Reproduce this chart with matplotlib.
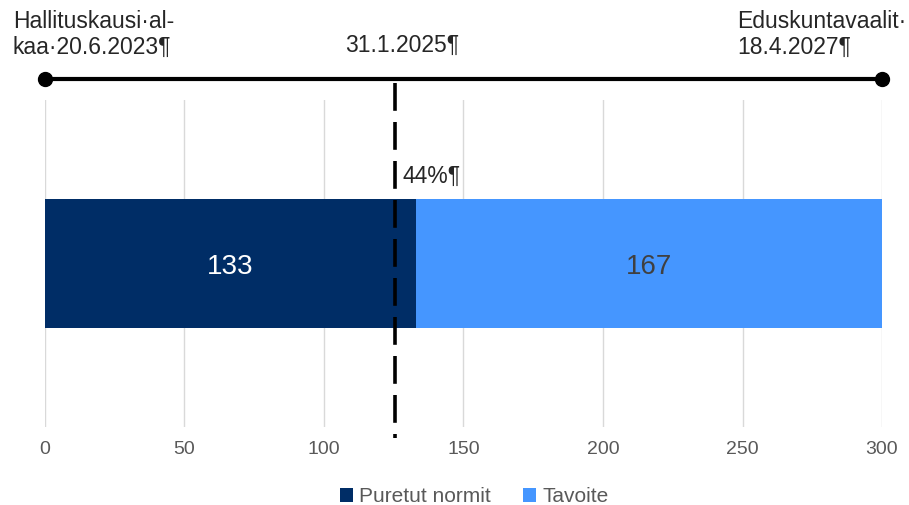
import matplotlib.pyplot as plt
import matplotlib.transforms as mtransforms

plt.rcParams['font.family'] = ['Liberation Sans', 'DejaVu Sans']

# data
series = ['Puretut normit', 'Tavoite']
values = [133, 167]
colors = ['#002D66', '#4596FF']
label_colors = ['#FFFFFF', '#404040']
today_x = 125.5          # 31.1.2025 on the 0-300 scale
axis_max = 300
xticks = [0, 50, 100, 150, 200, 250, 300]
start_label = 'Hallituskausi·al-\nkaa·20.6.2023¶'
mid_label = '31.1.2025¶'
end_label = 'Eduskuntavaalit·\n18.4.2027¶'
pct_label = '44%¶'

fig = plt.figure(figsize=(9.09, 5.05), dpi=100)
ax = fig.add_axes([0.0495, 0.1545, 0.9208, 0.6475])

left = 0
for name, v, c, lc in zip(series, values, colors, label_colors):
    ax.barh(0, v, left=left, height=0.79, color=c, label=name, zorder=2)
    ax.text(left + v / 2, -0.02, str(v), ha='center', va='center',
            fontsize=20, color=lc, zorder=4)
    left += v

ax.set_xlim(0, axis_max)
ax.set_ylim(-1, 1)
ax.set_yticks([])
ax.set_xticks(xticks)
ax.tick_params(axis='x', length=0, labelsize=14, colors='#595959', pad=10)
ax.grid(axis='x', color='#D9D9D9', linewidth=1, zorder=0)
for s in ax.spines.values():
    s.set_visible(False)

# timeline on top
trans = mtransforms.blended_transform_factory(ax.transData, ax.transAxes)
ax.plot([0, axis_max], [1.064, 1.064], color='black', lw=3, transform=trans,
        clip_on=False, zorder=5)
ax.plot([0, axis_max], [1.064, 1.064], 'o', color='black', ms=10,
        transform=trans, clip_on=False, zorder=6)

# dashed "today" line
ax.plot([today_x, today_x], [1.052, -0.035], color='black', lw=2.6,
        dashes=(7.7, 3.1), transform=trans, clip_on=False, zorder=5)

ax.text(-11.5, 1.2, start_label, transform=trans, ha='left', va='center',
        fontsize=16.5, color='#262626', linespacing=1.2)
ax.text(today_x + 2.5, 1.168, mid_label, transform=trans, ha='center', va='center',
        fontsize=16.5, color='#262626')
ax.text(248, 1.2, end_label, transform=trans, ha='left', va='center',
        fontsize=16.5, color='#262626', linespacing=1.2)
ax.text(today_x + 2.5, 0.765, pct_label, transform=trans, ha='left', va='center',
        fontsize=16.5, color='#262626')

ax.legend(loc='lower center', bbox_to_anchor=(0.513, -0.3), ncol=2, frameon=False,
          fontsize=15, labelcolor='#595959', handlelength=0.6, handleheight=0.6,
          handletextpad=0.3, columnspacing=1.55)

fig.savefig('out.png', dpi=100)
